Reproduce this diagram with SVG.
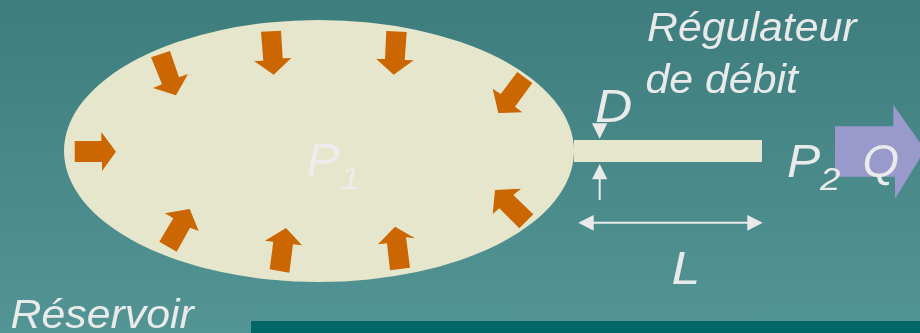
<svg xmlns="http://www.w3.org/2000/svg" width="920" height="333" viewBox="0 0 920 333">
  <defs>
    <linearGradient id="bg" x1="0" y1="0" x2="0" y2="1">
      <stop offset="0" stop-color="#3e7d7e"/>
      <stop offset="1" stop-color="#539494"/>
    </linearGradient>
  </defs>
  <style>
    .lbl{font-family:"Liberation Sans",Arial,sans-serif;font-style:italic;fill:#eaeaea}
    .t41{font-size:41px}
    .t47{font-size:47px}
    .sub{font-size:32px}
    .cream{fill:#e6e6cc}
    .press{fill:#cc6600}
    .dim{fill:#eaeaea}
    .dimline{stroke:#eaeaea;stroke-width:2;fill:none}
    .faint{fill:#ececec}
  </style>
  <rect id="background" width="920" height="333" fill="url(#bg)"/>
  <rect id="bottom-bar" x="251" y="321" width="669" height="12" fill="#006666"/>
  <g id="reservoir">
    <ellipse class="cream" cx="319" cy="151" rx="255" ry="131"/>
  </g>
  <g id="regulator">
    <rect class="cream" x="574" y="140" width="188" height="22"/>
  </g>
  <g id="pressure-arrows">
    <polygon class="press" points="74.7,141 101.3,141 101.3,132 116,151.7 102,171 102,162 74.7,162"/>
    <polygon class="press" points="151,57.3 170,51 179,77.3 188,74 176,95.3 153,88 162,84.3"/>
    <polygon class="press" points="261,31.7 281,30.7 282.7,58.3 291.3,58 273.7,74.7 254,61 263.3,60.7"/>
    <polygon class="press" points="386.3,31 406.7,32 404.7,60 413.7,60.3 393.7,74.7 376.3,59 385,59"/>
    <polygon class="press" points="159.3,241.7 176.7,251.7 190,227.7 198.7,231 189.7,209 165,213.3 173.3,218.3"/>
    <polygon class="press" points="269.7,269.3 289.3,272.7 293,244.3 302,245.3 286,228 265,240.7 273.3,241.7"/>
    <polygon class="press" points="390,270.3 410,267.7 406,237.3 415,238.3 395,226.7 378,244.3 387,243.3"/>
    <polygon class="press" points="532.3,83 517.3,72 500.7,94 492.7,88.7 498.3,113 522.3,112.3 515,106.7"/>
    <polygon class="press" points="533.3,214.3 519.3,228.3 499.3,208.3 492.7,214 495,190 521,188.7 513.3,195"/>
  </g>
  <g id="flow-arrow">
    <polygon fill="#9999cc" points="835,126.3 893.3,126.3 893.3,104.7 925,150 895,198.7 895,176.7 835,176.7"/>
  </g>
  <g id="connectors">
    <polygon class="dim" points="592,123.3 607.3,123.3 599.7,138.7"/>
    <polygon class="dim" points="592,179.3 607.3,179.3 599.7,164"/>
    <line class="dimline" x1="599.7" y1="179" x2="599.7" y2="200"/>
    <line class="dimline" x1="590" y1="222.7" x2="750" y2="222.7"/>
    <polygon class="dim" points="578.3,222.7 593.7,215 593.7,230.7"/>
    <polygon class="dim" points="762.7,222.7 747.3,215 747.3,230.7"/>
  </g>
  <g id="labels" opacity="0.999">
    <text class="lbl t41" transform="translate(10.5 328) scale(1.045 1)">Réservoir</text>
    <text class="lbl t41" transform="translate(647 41) scale(1.045 1)">Régulateur</text>
    <text class="lbl t41" transform="translate(645.5 93) scale(1.045 1)">de débit</text>
    <text class="lbl t47" transform="translate(595 122) scale(1.1 1)">D</text>
    <text class="lbl t47 faint" transform="translate(306.5 176) scale(1.06 1)">P</text>
    <text class="lbl sub faint" transform="translate(340.5 189) scale(1.1 1)">1</text>
    <text class="lbl t47" transform="translate(787 177) scale(1.06 1)">P</text>
    <text class="lbl sub" transform="translate(820 190) scale(1.15 1)">2</text>
    <text class="lbl t47" transform="translate(862.5 177)">Q</text>
    <text class="lbl t47" transform="translate(671.5 284) scale(1.1 1)">L</text>
  </g>
</svg>
